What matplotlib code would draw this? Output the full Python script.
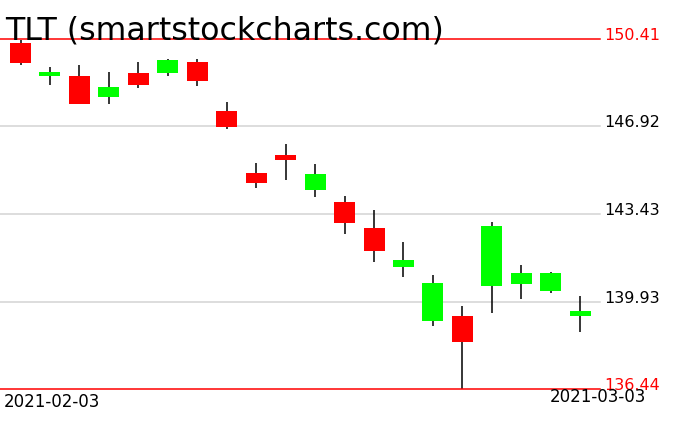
import numpy as np
import matplotlib
matplotlib.use('Agg')
import matplotlib.pyplot as plt

# TLT daily candles
dates = ['2021-02-03', '2021-02-04', '2021-02-05', '2021-02-08', '2021-02-09',
         '2021-02-10', '2021-02-11', '2021-02-12', '2021-02-16', '2021-02-17',
         '2021-02-18', '2021-02-19', '2021-02-22', '2021-02-23', '2021-02-24',
         '2021-02-25', '2021-02-26', '2021-03-01', '2021-03-02', '2021-03-03']
opens = [150.25, 148.93, 148.93, 148.11, 149.05, 149.06, 149.49, 147.54, 145.06, 145.78,
         144.40, 143.90, 142.87, 141.32, 139.17, 139.35, 140.56, 140.64, 140.36, 139.37]
highs = [150.37, 149.29, 149.37, 149.09, 149.49, 149.61, 149.61, 147.90, 145.46, 146.22,
         145.42, 144.14, 143.58, 142.31, 140.99, 139.75, 143.11, 141.39, 141.11, 140.15]
lows = [149.38, 148.59, 147.81, 147.83, 148.45, 148.94, 148.55, 146.83, 144.47, 144.79,
        144.12, 142.64, 141.52, 140.92, 138.97, 136.44, 139.49, 140.04, 140.28, 138.73]
closes = [149.46, 149.09, 147.82, 148.49, 148.59, 149.58, 148.73, 146.90, 144.67, 145.59,
          145.02, 143.08, 141.96, 141.59, 140.67, 138.33, 142.95, 141.07, 141.07, 139.55]

levels = [150.41, 146.92, 143.43, 139.93, 136.44]
title = 'TLT (smartstockcharts.com)'

W, H = 676, 431
fig = plt.figure(figsize=(W / 100, H / 100), dpi=100)
# axes spans pixels x 0..600, y 40..390
ax = fig.add_axes([0, (H - 390) / H, 600 / W, 350 / H])
ax.set_ylim(levels[-1], levels[0])
ax.set_xlim(-0.696, 19.67)
ax.axis('off')

x = np.arange(len(dates))
for i in x:
    col = '#00ff00' if closes[i] >= opens[i] else '#ff0000'
    ax.vlines(i, lows[i], highs[i], color='black', lw=1.1, zorder=2, clip_on=False)
    bottom = min(opens[i], closes[i])
    ax.bar(i, abs(closes[i] - opens[i]), bottom=bottom, width=0.713,
           color=col, zorder=3, clip_on=False)

for j, lv in enumerate(levels):
    edge = j == 0 or j == len(levels) - 1
    ax.axhline(lv, color='red' if edge else '#d3d3d3', lw=1.1, zorder=4 if edge else 1,
               clip_on=False)
    ax.text(1.007, lv, '%.2f' % lv, transform=ax.get_yaxis_transform(),
            color='red' if edge else 'black', fontsize=11.5, va='baseline', ha='left')

fig.text(5 / W, 1 - 39 / H, title, fontsize=22.8, va='baseline', ha='left',
         color='black')
fig.text(4 / W, 1 - 407 / H, dates[0], fontsize=12, va='baseline', ha='left')
fig.text(646 / W, 1 - 402 / H, dates[-1], fontsize=12, va='baseline', ha='right')

fig.savefig('out.png', dpi=100, facecolor='white')
